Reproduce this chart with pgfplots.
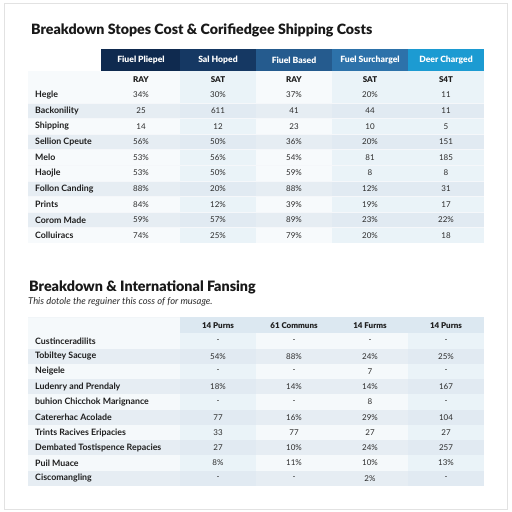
\documentclass[border=0pt]{standalone}
\usepackage{pgfplots}
\usepackage{pgfplotstable}
\pgfplotsset{compat=1.18}
\usepackage{fontspec}
\setmainfont{Lato}
\newfontfamily\heavy{Lato Black}
\newfontfamily\semi{Lato Semibold}
\definecolor{hA}{HTML}{0F2A4F}
\definecolor{hB}{HTML}{153863}
\definecolor{hC}{HTML}{255B8E}
\definecolor{hD}{HTML}{2D72AA}
\definecolor{hE}{HTML}{1C9BD2}
\definecolor{tint}{HTML}{EAF3F8}
\definecolor{stripe}{HTML}{DCE5EE}
\definecolor{txt}{HTML}{2B2B2B}
\definecolor{lab}{HTML}{1E1E1E}
\definecolor{hdr2}{HTML}{DCE8F1}
\definecolor{card}{HTML}{E2E2E2}

\pgfplotstableread{
y lab a b c d e
95 Hegle 34\% 30\% 37\% 20\% 11
110.6 Backonility 25 611 41 44 11
126.2 Shipping 14 12 23 10 5
141.8 {Sellion Cpeute} 56\% 50\% 36\% 20\% 151
157.4 Melo 53\% 56\% 54\% 81 185
173 Haojle 53\% 50\% 59\% 8 8
188.6 {Follon Canding} 88\% 20\% 88\% 12\% 31
204.2 Prints 84\% 12\% 39\% 19\% 17
219.8 {Corom Made} 59\% 57\% 89\% 23\% 22\%
235.4 Colluiracs 74\% 25\% 79\% 20\% 18
}\tabA

\pgfplotstableread{
y lab a b c d
341 Custinceradilits - - - -
356.25 {Tobiltey Sacuge} 54\% 88\% 24\% 25\%
371.5 Neigele - - 7 -
386.75 {Ludenry and Prendaly} 18\% 14\% 14\% 167
402 {buhion Chicchok Marignance} - - 8 -
417.25 {Catererhac Acolade} 77 16\% 29\% 104
432.5 {Trints Racives Eripacies} 33 77 27 27
447.75 {Dembated Tostispence Repacies} 27 10\% 24\% 257
463 {Puil Muace} 8\% 11\% 10\% 13\%
478.25 Ciscomangling - - 2\% -
}\tabB

\pgfplotsset{
  cell/.style={draw=none, mark=none, nodes near coords, point meta=explicit symbolic,
    nodes near coords style={anchor=center, inner sep=0pt, font=\fontsize{8}{9}\selectfont, text=txt}},
  rowlab/.style={draw=none, mark=none, nodes near coords, point meta=explicit symbolic,
    nodes near coords style={anchor=west, inner sep=0pt, font=\fontsize{8.8}{10}\selectfont\bfseries, text=lab}},
}

\begin{document}
\begin{tikzpicture}
\begin{axis}[width=512pt, height=512pt, scale only axis,
  xmin=0, xmax=512, ymin=0, ymax=512, y dir=reverse,
  axis lines=none, ticks=none, clip=false]
% background and card
\fill[white] (axis cs:0,0) rectangle (axis cs:512,512);
\draw[card, line width=1pt, fill=white] (axis cs:4,3) rectangle (axis cs:507,509);

% ---------- Title 1
\node[anchor=west, inner sep=0pt, font=\fontsize{14.2}{16}\selectfont\heavy, text=black!90] at (axis cs:31,30) {Breakdown Stopes Cost \& Corifiedgee Shipping Costs};

% table 1 body backgrounds
\fill[white!60!tint] (axis cs:28,71) rectangle (axis cs:484,243.2);
\fill[tint] (axis cs:180,71) rectangle (axis cs:256,243.2);
\fill[tint] (axis cs:332,71) rectangle (axis cs:484,243.2);
\pgfplotsinvokeforeach{1,3,6,8}{
  \fill[stripe, fill opacity=0.6] (axis cs:28,{87.2+15.6*#1}) rectangle (axis cs:484,{87.2+15.6*(#1+1)});
}
\pgfplotsinvokeforeach{1,...,9}{
  \draw[white!70!stripe, line width=0.4pt] (axis cs:28,{87.2+15.6*#1}) -- (axis cs:484,{87.2+15.6*#1});
}
% header
\fill[hA] (axis cs:101,49) rectangle (axis cs:180,70.5);
\fill[hB] (axis cs:180,49) rectangle (axis cs:256,70.5);
\fill[hC] (axis cs:256,49) rectangle (axis cs:332,70.5);
\fill[hD] (axis cs:332,49) rectangle (axis cs:408,70.5);
\fill[hE] (axis cs:408,49) rectangle (axis cs:484,70.5);
\node[font=\fontsize{8.6}{10}\selectfont\heavy, text=white] at (axis cs:141,60) {Fiuel Pliepel};
\node[font=\fontsize{8.6}{10}\selectfont\heavy, text=white] at (axis cs:218,60) {Sal Hoped};
\node[font=\fontsize{8.6}{10}\selectfont\heavy, text=white] at (axis cs:294,60) {Fiuel Based};
\node[font=\fontsize{8.6}{10}\selectfont\heavy, text=white] at (axis cs:370,60) {Fuel Surchargel};
\node[font=\fontsize{8.6}{10}\selectfont\heavy, text=white] at (axis cs:446,60) {Deer Charged};
\node[font=\fontsize{8}{9}\selectfont\heavy, text=lab] at (axis cs:141,79.5) {RAY};
\node[font=\fontsize{8}{9}\selectfont\heavy, text=lab] at (axis cs:218,79.5) {SAT};
\node[font=\fontsize{8}{9}\selectfont\heavy, text=lab] at (axis cs:294,79.5) {RAY};
\node[font=\fontsize{8}{9}\selectfont\heavy, text=lab] at (axis cs:370,79.5) {SAT};
\node[font=\fontsize{8}{9}\selectfont\heavy, text=lab] at (axis cs:446,79.5) {S4T};

\addplot[rowlab] table[x expr=35, y=y, meta=lab] {\tabA};
\addplot[cell] table[x expr=141, y=y, meta=a] {\tabA};
\addplot[cell] table[x expr=218, y=y, meta=b] {\tabA};
\addplot[cell] table[x expr=294, y=y, meta=c] {\tabA};
\addplot[cell] table[x expr=370, y=y, meta=d] {\tabA};
\addplot[cell] table[x expr=446, y=y, meta=e] {\tabA};

% ---------- Title 2
\node[anchor=west, inner sep=0pt, font=\fontsize{14.3}{16}\selectfont\heavy, text=black!90] at (axis cs:29,287) {Breakdown \& International Fansing};
\node[anchor=west, inner sep=0pt, font=\fontsize{9.4}{11}\selectfont\itshape, text=txt] at (axis cs:28,302) {This dotole the reguiner this coss of for musage.};

\fill[white!50!tint] (axis cs:28,317) rectangle (axis cs:484,486);
\draw[white!60!stripe, line width=0.5pt] (axis cs:28,317) -- (axis cs:484,317);
\fill[tint] (axis cs:180,333.4) rectangle (axis cs:256,486);
\fill[tint] (axis cs:408,333.4) rectangle (axis cs:484,486);
\fill[hdr2] (axis cs:180,317) rectangle (axis cs:484,333.4);
\pgfplotsinvokeforeach{1,3,5,7,9}{
  \fill[stripe, fill opacity=0.6] (axis cs:28,{333.4+15.25*#1}) rectangle (axis cs:484,{333.4+15.25*(#1+1)});
}
\node[font=\fontsize{8}{9}\selectfont\heavy, text=lab] at (axis cs:218,325.5) {14 Purns};
\node[font=\fontsize{8}{9}\selectfont\heavy, text=lab] at (axis cs:294,325.5) {61 Communs};
\node[font=\fontsize{8}{9}\selectfont\heavy, text=lab] at (axis cs:370,325.5) {14 Furms};
\node[font=\fontsize{8}{9}\selectfont\heavy, text=lab] at (axis cs:446,325.5) {14 Purns};

\addplot[rowlab] table[x expr=35, y=y, meta=lab] {\tabB};
\addplot[cell] table[x expr=218, y=y, meta=a] {\tabB};
\addplot[cell] table[x expr=294, y=y, meta=b] {\tabB};
\addplot[cell] table[x expr=370, y=y, meta=c] {\tabB};
\addplot[cell] table[x expr=446, y=y, meta=d] {\tabB};
\end{axis}
\end{tikzpicture}
\end{document}
